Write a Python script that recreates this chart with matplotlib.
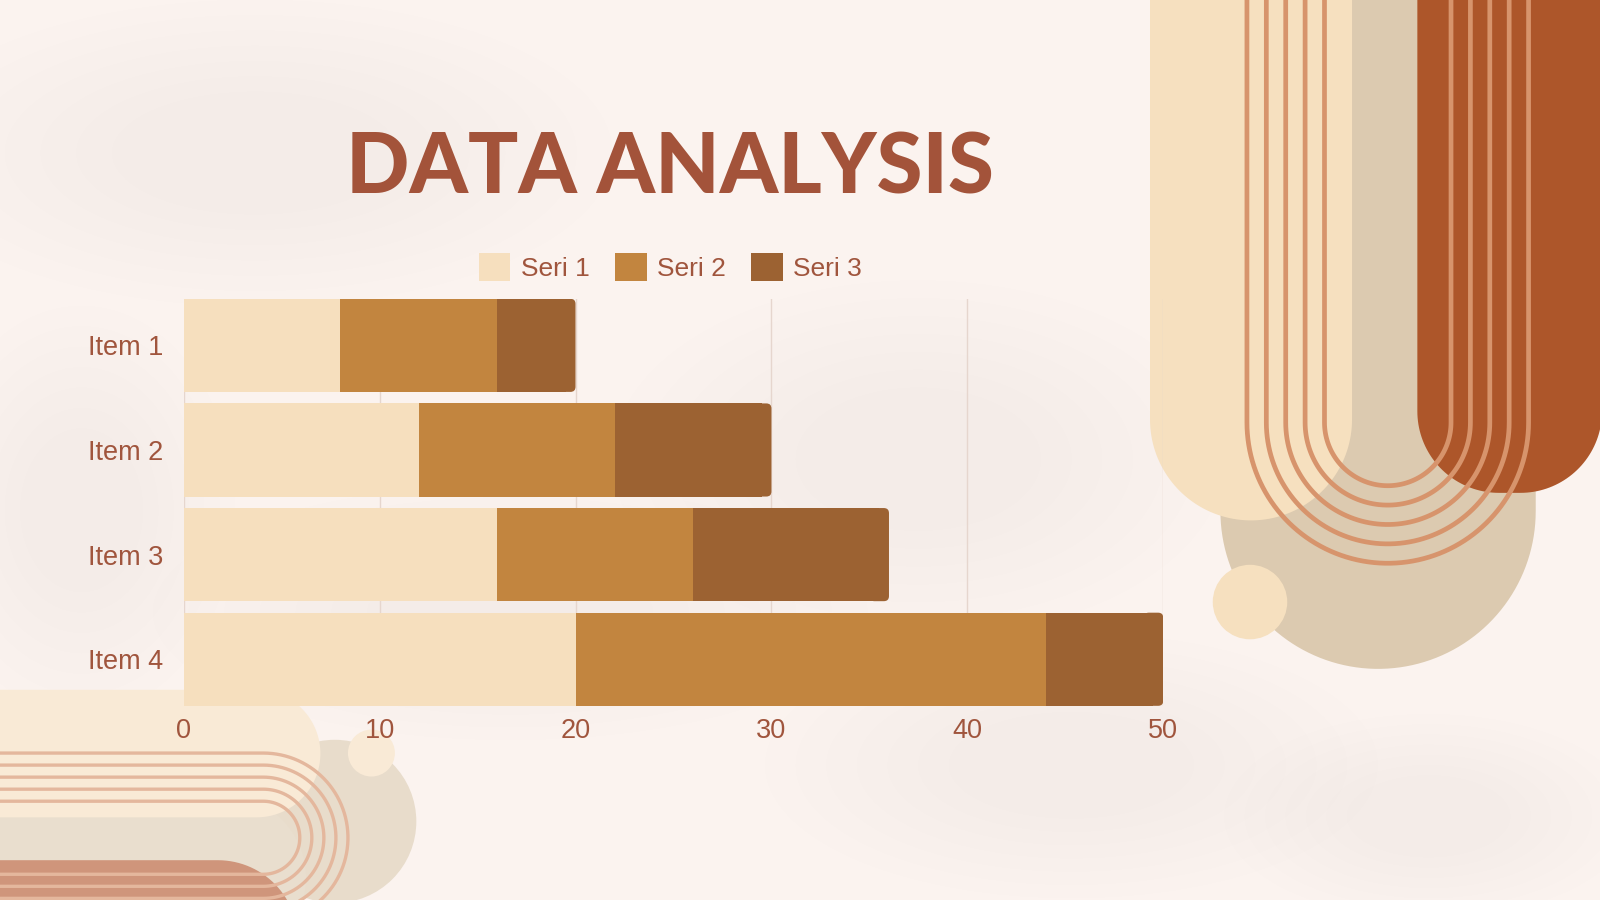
import numpy as np
import matplotlib
matplotlib.use("Agg")
import matplotlib.pyplot as plt
from matplotlib.patches import Polygon, Circle, Ellipse, FancyBboxPatch

# chart data
items = ["Item 1", "Item 2", "Item 3", "Item 4"]
seri1 = [8, 12, 16, 20]
seri2 = [8, 10, 10, 24]
seri3 = [4, 8, 10, 6]
series_names = ["Seri 1", "Seri 2", "Seri 3"]
x_ticks = [0, 10, 20, 30, 40, 50]

colors = ["#F6DFBE", "#C2853F", "#9C6232"]
text_col = "#A0553D"
title_col = "#A3533A"

W, H = 1568, 882  # layout is measured in these pixel units

fig = plt.figure(figsize=(16, 9), dpi=100)
fig.patch.set_facecolor("#FBF3EF")

# background / decoration layer
bg = fig.add_axes([0, 0, 1, 1], zorder=0)
bg.set_xlim(0, W)
bg.set_ylim(H, 0)
bg.axis("off")

# soft watercolour blotches (stacked faint ellipses for blurred edges)
for (cx, cy, w, h) in [(250, 150, 700, 300), (900, 450, 600, 350), (500, 600, 700, 250),
                       (1050, 750, 600, 260), (1400, 800, 400, 200), (80, 500, 300, 400)]:
    for s in np.linspace(1.0, 0.4, 7):
        bg.add_patch(Ellipse((cx, cy), w * s, h * s, color="#F2DCD3", alpha=0.035, lw=0))


def u_shape(x0, x1, cy, top=-10, n=80):
    r = (x1 - x0) / 2
    cx = (x0 + x1) / 2
    t = np.linspace(np.pi, 0, n)
    pts = [(x0, top)] + list(zip(cx + r * np.cos(t), cy + r * np.sin(t))) + [(x1, top)]
    return np.array(pts)


def round_rect_bottom(x0, x1, bottom, r, top=-10, n=40):
    t1 = np.linspace(np.pi, np.pi / 2, n)
    t2 = np.linspace(np.pi / 2, 0, n)
    pts = [(x0, top)]
    pts += list(zip(x0 + r + r * np.cos(t1), bottom - r + r * np.sin(t1)))
    pts += list(zip(x1 - r + r * np.cos(t2), bottom - r + r * np.sin(t2)))
    pts += [(x1, top)]
    return np.array(pts)


# right-hand decoration
bg.add_patch(Polygon(u_shape(1196, 1505, 501), closed=True, color="#DCCAB0", lw=0))
bg.add_patch(Polygon(u_shape(1127, 1325, 411), closed=True, color="#F6E0BF", lw=0))
bg.add_patch(Polygon(round_rect_bottom(1389, 1570, 483, 80), closed=True, color="#AD562A", lw=0))
for k in range(5):
    r = 138 - 19 * k
    p = u_shape(1360 - r, 1360 + r, 414)
    bg.plot(p[:, 0], p[:, 1], color="#D7946C", lw=3.4, solid_capstyle="butt")
bg.add_patch(Circle((1225, 590), 36.5, color="#F6E0BF", lw=0))


# left-bottom decoration (sideways pills)
def side_pill(y0, y1, xr, left=-10, n=60):
    r = (y1 - y0) / 2
    cy = (y0 + y1) / 2
    cx = xr - r
    t = np.linspace(-np.pi / 2, np.pi / 2, n)
    pts = [(left, y0)] + list(zip(cx + r * np.cos(t), cy + r * np.sin(t))) + [(left, y1)]
    return np.array(pts)


bg.add_patch(Circle((328, 805), 80, color="#E8DCCB", lw=0))
bg.add_patch(Polygon(side_pill(780, 940, 300), closed=True, color="#E9DECE", lw=0))
bg.add_patch(Polygon(side_pill(676, 801, 314), closed=True, color="#F9EAD6", lw=0))
bg.add_patch(Polygon(side_pill(843, 1000, 292), closed=True, color="#CF957B", lw=0))
bg.add_patch(Circle((364, 738), 23, color="#F9EAD6", lw=0))
for k in range(5):
    r = 83 - 11.8 * k
    p = side_pill(821 - r, 821 + r, 258 + r)
    bg.plot(p[:, 0], p[:, 1], color="#E4B79D", lw=2.4, solid_capstyle="butt")

# title
bg.text(657, 190, "DATA ANALYSIS", ha="center", va="baseline", fontsize=60,
        fontweight="black", color=title_col, family=["Lato", "DejaVu Sans"])

# chart axes
left, right, top, bottom = 180, 1140, 292.8, 691.7
ax = fig.add_axes([left / W, 1 - bottom / H, (right - left) / W, (bottom - top) / H], zorder=1)
ax.set_facecolor("none")

y = np.arange(len(items))
b1 = ax.barh(y, seri1, height=0.89, color=colors[0], label=series_names[0], zorder=3)
b2 = ax.barh(y, seri2, left=seri1, height=0.89, color=colors[1], label=series_names[1], zorder=3)
b3 = ax.barh(y, seri3, left=np.add(seri1, seri2), height=0.89, color=colors[2],
             label=series_names[2], zorder=3)

ax.set_xlim(0, 50)
ax.set_ylim(len(items) - 0.555, -0.445)

# rounded right end of each stacked bar
x_per_px = 50 / (right - left)
y_per_px = (len(items) - 0.555 + 0.445) / (bottom - top)
for rect in b3:
    x0, y0, w, h = rect.get_x(), rect.get_y(), rect.get_width(), rect.get_height()
    rect.set_width(w - 0.5)
    ax.add_patch(FancyBboxPatch((x0 + w - 1.0, y0), 1.0, h,
                                boxstyle="round,pad=0,rounding_size=%f" % (5 * x_per_px),
                                mutation_aspect=y_per_px / x_per_px,
                                color=colors[2], lw=0, zorder=3))

ax.set_xticks(x_ticks)
ax.set_yticks(y)
ax.set_yticklabels(items)
ax.grid(axis="x", color="#E6D6CE", lw=1, zorder=0)
for s in ax.spines.values():
    s.set_visible(False)
ax.tick_params(axis="y", length=0, pad=14.5, labelsize=19.5, labelcolor=text_col)
ax.tick_params(axis="x", length=0, pad=9, labelsize=19.5, labelcolor=text_col)
for lab in ax.get_xticklabels() + ax.get_yticklabels():
    lab.set_family("Liberation Sans")

leg = fig.legend(handles=[b1, b2, b3], loc="center", bbox_to_anchor=(657 / W, 1 - 262 / H),
                 ncol=3, frameon=False, handlelength=1.2, handleheight=1.25,
                 handletextpad=0.4, columnspacing=0.95,
                 prop={"family": "Liberation Sans", "size": 19})
for t in leg.get_texts():
    t.set_color(text_col)

fig.savefig("out.png", dpi=100, facecolor=fig.get_facecolor())
